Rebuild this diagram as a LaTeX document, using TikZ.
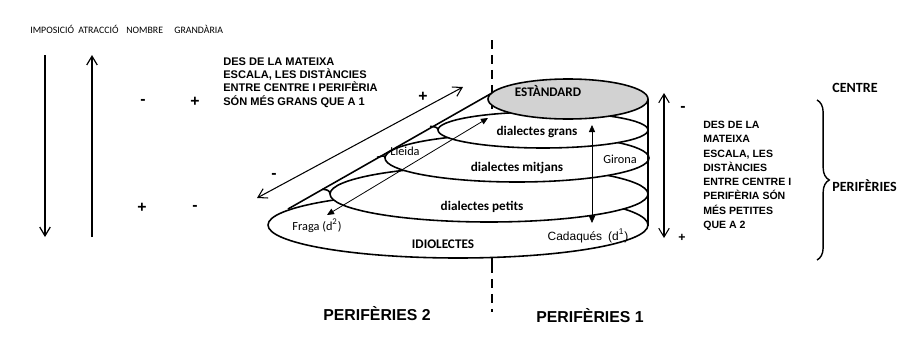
\documentclass[tikz,border=0pt]{standalone}
\usepackage{fontspec}
\setmainfont{Liberation Sans}
\newfontfamily\calib{Carlito}
\usetikzlibrary{arrows.meta}
\usetikzlibrary{decorations.pathreplacing}
\tikzset{layer/.style={draw=black, line width=0.9pt, fill=white},
 toplabel/.style={font=\calib\fontsize{5.6}{7}\selectfont, anchor=base west, inner sep=0pt},
 blocktext/.style={font=\bfseries\fontsize{6.3}{7.65}\selectfont, align=left, anchor=north west, inner sep=0pt},
 sign/.style={font=\bfseries\fontsize{9}{10}\selectfont, inner sep=0pt},
 disclabel/.style={font=\calib\bfseries\fontsize{7.5}{9}\selectfont, inner sep=0pt, text height=5.2pt, text depth=1.6pt},
 placelabel/.style={font=\calib\fontsize{7}{8}\selectfont, inner sep=0pt, text height=5pt, text depth=1.5pt},
 bigtitle/.style={font=\bfseries\fontsize{9}{10}\selectfont, inner sep=0pt, text height=6.5pt, text depth=0pt},
 sidetitle/.style={font=\calib\bfseries\fontsize{8}{9}\selectfont, anchor=west, inner sep=0pt, text height=5.6pt, text depth=0pt},
 barb/.style={line width=0.6pt, {Straight Barb[length=5pt,width=6pt]}-{Straight Barb[length=5pt,width=6pt]}},
 thinarrow/.style={line width=0.45pt, {Triangle[length=4pt,width=3.5pt]}-{Triangle[length=4pt,width=3.5pt]}},
 }

\begin{document}
\begin{tikzpicture}[x=0.02cm,y=-0.02cm]
  \useasboundingbox (0,0) rectangle (900,345);
  % column heads
  \node[toplabel] (imposicio) at (30,33) {IMPOSICIÓ};
  \node[toplabel] (atraccio) at (78,33) {ATRACCIÓ};
  \node[toplabel] (nombre) at (126,33) {NOMBRE};
  \node[toplabel] (grandaria) at (174,33) {GRANDÀRIA};
  \coordinate (impTop) at (45,55);
  \coordinate (impBot) at (45,237);
  \coordinate (atrTop) at (92,55);
  \coordinate (atrBot) at (92,237);
  \draw[line width=0.7pt, -{Straight Barb[length=5pt,width=6pt]}] (impTop) -- (impBot);
  \draw[line width=0.7pt, -{Straight Barb[length=5pt,width=6pt]}] (atrBot) -- (atrTop);
  \node[sign] (nomMinus) at (143,102) {-};
  \node[sign] (graPlus) at (195,102) {+};
  \node[sign] (nomPlus) at (142,208) {+};
  \node[sign] (graMinus) at (195,208) {-};
  \node[blocktext] (text1) at (223,57) {DES DE LA MATEIXA\\ESCALA, LES DISTÀNCIES\\ENTRE CENTRE I PERIFÈRIA\\SÓN MÉS GRANS QUE A 1};

  % axis
  \draw[line width=0.7pt, dash pattern=on 5pt off 3.5pt] (492,40) -- (492,312);
  \draw[line width=0.7pt] (492,256) -- (492,265);

  % layers, bottom first
  \draw[layer] (458,225) ellipse [x radius=190, y radius=33];
  \draw[layer] (489,194) ellipse [x radius=159, y radius=28];
  \draw[layer] (517,158) ellipse [x radius=132, y radius=24];
  \draw[layer] (543,130) ellipse [x radius=105, y radius=18];
  \draw[layer, fill=gray!35] (568,99) ellipse [x radius=80, y radius=20];

  % cone side
  \coordinate (coneBot) at (288,209);
  \coordinate (coneTop) at (492,93);
  \draw[line width=0.9pt] (coneBot) -- (coneTop);
  \draw[line width=0.9pt] (330,194) .. controls (330,190) and (326,189.5) .. (322,189.3);
  \draw[line width=0.9pt] (385,158) .. controls (385,154) and (381,157) .. (377,157.2);
  \draw[line width=0.9pt] (438,130) .. controls (438,127) and (434,126.5) .. (430,126.4);
  \coordinate (sideTop) at (648,99);
  \coordinate (sideBot) at (648,226);
  \draw[line width=0.6pt] (sideTop) -- (sideBot);

  % layer names
  \node[disclabel] (estandard) at (548,93) {ESTÀNDARD};
  \node[disclabel] (grans) at (537,132) {dialectes grans};
  \node[disclabel] (mitjans) at (517,168) {dialectes mitjans};
  \node[disclabel] (petits) at (482,207) {dialectes petits};
  \node[disclabel] (idiolectes) at (443,245) {IDIOLECTES};
  \node[placelabel] (girona) at (620,160) {Girona};
  \node[placelabel] (lleida) at (405,152) {Lleida};
  \node[placelabel] (fraga) at (317,227) {Fraga (d\textsuperscript{2})};
  \node[font=\fontsize{6.8}{8}\selectfont, inner sep=0pt, text height=5pt, text depth=1.5pt] (cadaques) at (588,237) {Cadaqués\enspace(d\textsuperscript{1})};

  % distances
  \coordinate (outLow) at (257,198);
  \coordinate (outHigh) at (463,87);
  \draw[barb] (outLow) -- (outHigh);
  \node[sign] (outPlus) at (423,97) {+};
  \node[sign] (outMinus) at (274,176) {-};
  \coordinate (fragaEnd) at (327,215);
  \coordinate (gransEnd) at (488,118);
  \draw[thinarrow] (fragaEnd) -- (gransEnd);
  \coordinate (cadEnd) at (592,223);
  \coordinate (gransTop) at (592,125);
  \draw[thinarrow] (cadEnd) -- (gransTop);
  \coordinate (rightTop) at (664,93);
  \coordinate (rightBot) at (664,238);
  \draw[barb] (rightTop) -- (rightBot);
  \node[sign] (rightMinus) at (683,109) {-};
  \node[sign, font=\bfseries\fontsize{7}{8}\selectfont] (rightPlus) at (682,238) {+};
  \node[blocktext, font=\bfseries\fontsize{6}{8.1}\selectfont] (text2) at (703,121) {DES DE LA\\MATEIXA\\ESCALA, LES\\DISTÀNCIES\\ENTRE CENTRE I\\PERIFÈRIA SÓN\\MÉS PETITES\\QUE A 2};

  % centre and peripheries
  \coordinate (braceTop) at (817,100);
  \coordinate (braceBot) at (817,260);
  \draw[line width=0.8pt, decorate, decoration={brace, amplitude=7pt}] (braceTop) -- (braceBot);
  \node[sidetitle] (centre) at (832,88) {CENTRE};
  \node[sidetitle] (periferies) at (832,187) {PERIFÈRIES};
  \node[bigtitle] (perif2) at (377,315) {PERIFÈRIES 2};
  \node[bigtitle] (perif1) at (590,317) {PERIFÈRIES 1};
\end{tikzpicture}
\end{document}
